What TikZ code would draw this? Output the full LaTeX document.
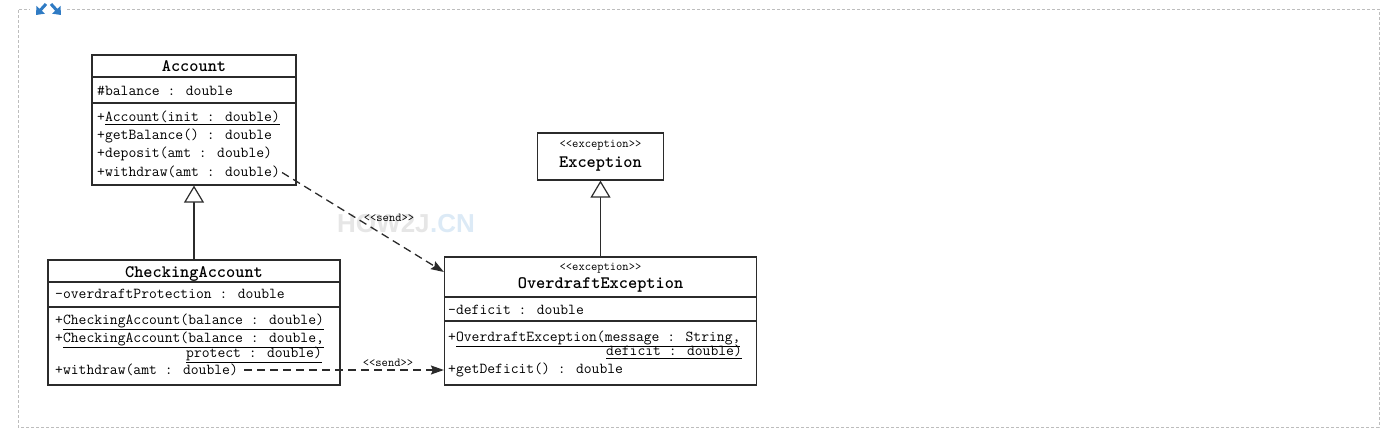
\documentclass[tikz,border=0pt]{standalone}
\usepackage{fontspec}
\newfontfamily\wmfont{Liberation Sans}
\usetikzlibrary{arrows.meta,calc}
\definecolor{linecol}{HTML}{2B2B2B}
\definecolor{framecol}{HTML}{BDBDBD}
\definecolor{iconblue}{HTML}{2F7BC4}
\definecolor{wmgray}{HTML}{E6E6E6}
\definecolor{wmblue}{HTML}{DCEAF6}
\tikzset{
  umlbox/.style={draw=linecol, line width=1.2pt, fill=white, inner sep=0pt},
  sepline/.style={draw=linecol, line width=1.2pt},
  mem/.style={font=\ttfamily\fontsize{15.2}{18}\selectfont, anchor=base west, inner sep=0pt, text=black},
  ttl/.style={font=\ttfamily\bfseries\fontsize{17.5}{20}\selectfont, anchor=base, inner sep=0pt, text=black},
  stereo/.style={font=\ttfamily\fontsize{12.2}{14}\selectfont, anchor=base, inner sep=0pt, text=black},
  gen/.style={draw=linecol, line width=1.2pt, -{Triangle[open, length=17pt, width=20pt, fill=white]}},
  dep/.style={draw=linecol, line width=1.3pt, dash pattern=on 8pt off 5pt, -{Stealth[length=13pt, width=9pt, inset=2pt]}},
  wm/.style={font=\wmfont\bfseries\fontsize{26}{30}\selectfont, inner sep=0pt, anchor=base west},
  icon/.style={draw=iconblue, line width=3pt, -{Triangle[length=7pt, width=11pt]}}
}
\begin{document}
\begin{tikzpicture}[x=1pt,y=-1pt]
\useasboundingbox (0,0) rectangle (1388,441);
% outer frame
\draw[framecol, line width=0.9pt, dash pattern=on 3pt off 2pt]
  (67,9) -- (1379,9) -- (1379,427) -- (18,427) -- (18,9) -- (30,9);
% expand icon
\coordinate (ia1) at (46,4);
\coordinate (ia2) at (36,15);
\coordinate (ib1) at (51,4);
\coordinate (ib2) at (61,15);
\draw[icon] (ia1) -- (ia2);
\draw[icon] (ib1) -- (ib2);

% watermark
\node[wm, text=wmgray] (wm1) at (337,232) {HOW2J};
\node[wm, text=wmblue, anchor=base west] (wm2) at (wm1.base east) {.CN};

% Account
\node[umlbox, minimum width=204pt, minimum height=130pt] (acc) at (194,120) {};
\draw[sepline] (acc.west |- 0,77) -- (acc.east |- 0,77);
\draw[sepline] (acc.west |- 0,103) -- (acc.east |- 0,103);
\node[ttl] (accT) at (194,71.5) {Account};
\node[mem] (accA) at (97,95.5) {\#balance : double};
\node[mem] (accM1) at (97,121.5) {+\underline{Account(init : double)}};
\node[mem] (accM2) at (97,139.5) {+getBalance() : double};
\node[mem] (accM3) at (97,157.5) {+deposit(amt : double)};
\node[mem] (accM4) at (97,176.5) {+withdraw(amt : double)};

% CheckingAccount
\node[umlbox, minimum width=292pt, minimum height=125pt] (chk) at (194,322.5) {};
\draw[sepline] (chk.west |- 0,282) -- (chk.east |- 0,282);
\draw[sepline] (chk.west |- 0,307) -- (chk.east |- 0,307);
\node[ttl] (chkT) at (194,277) {CheckingAccount};
\node[mem] (chkA) at (55,298) {-overdraftProtection : double};
\node[mem] (chkM1) at (55,324) {+\underline{CheckingAccount(balance : double)}};
\node[mem] (chkM2) at (55,342.5) {+\underline{CheckingAccount(balance : double,}};
\node[mem] (chkM2b) at (186,357) {\underline{protect : double)}};
\node[mem] (chkM3) at (55,374) {+withdraw(amt : double)};

% Exception
\node[umlbox, minimum width=126pt, minimum height=47pt] (exc) at (600.5,156.5) {};
\node[stereo] (excS) at (600.5,147.5) {\textless\textless exception\textgreater\textgreater};
\node[ttl] (excT) at (600.5,167) {Exception};

% OverdraftException
\node[umlbox, minimum width=312pt, minimum height=128pt] (ovd) at (600.5,321) {};
\draw[sepline] (ovd.west |- 0,297) -- (ovd.east |- 0,297);
\draw[sepline] (ovd.west |- 0,321) -- (ovd.east |- 0,321);
\node[stereo] (ovdS) at (600.5,270.5) {\textless\textless exception\textgreater\textgreater};
\node[ttl] (ovdT) at (600.5,288) {OverdraftException};
\node[mem] (ovdA) at (448,314.5) {-deficit : double};
\node[mem] (ovdM1) at (448,341.5) {+\underline{OverdraftException(message : String,}};
\node[mem] (ovdM1b) at (606,355.5) {\underline{deficit : double)}};
\node[mem] (ovdM2) at (448,373) {+getDeficit() : double};

% generalizations
\draw[gen] (chk.north) -- (acc.south);
\draw[gen] (ovd.north) -- (exc.south);

% dependencies
\coordinate (d1s) at ($(accM4.base east)+(2,-4)$);
\coordinate (d1e) at (ovd.west |- 0,272);
\draw[dep] (d1s) -- (d1e);
\node[stereo] (send1) at (389,221.5) {\textless\textless send\textgreater\textgreater};
\coordinate (d2s) at ($(chkM3.base east)+(6,-4)$);
\coordinate (d2e) at (ovd.west |- d2s);
\draw[dep] (d2s) -- (d2e);
\node[stereo] (send2) at (388,366.5) {\textless\textless send\textgreater\textgreater};
\end{tikzpicture}
\end{document}
